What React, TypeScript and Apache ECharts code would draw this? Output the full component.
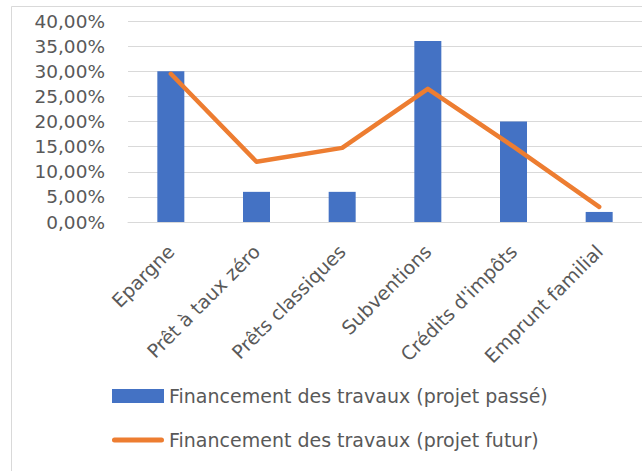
import React, { useEffect, useRef } from "react";
import * as echarts from "echarts";

const categories = [
  "Epargne",
  "Prêt à taux zéro",
  "Prêts classiques",
  "Subventions",
  "Crédits d'impôts",
  "Emprunt familial",
];
const pastProject = [30, 6, 6, 36, 20, 2];
const futureProject = [29.5, 12, 14.75, 26.5, 15, 3];
const seriesNames = [
  "Financement des travaux (projet passé)",
  "Financement des travaux (projet futur)",
];

const FONT = "'DejaVu Sans', sans-serif";
const GREY = "#595959";

export default function App() {
  const ref = useRef<HTMLDivElement>(null);
  useEffect(() => {
    if (!ref.current) return;
    const chart = echarts.init(ref.current, undefined, { renderer: "svg" });
    chart.setOption({
      animation: false,
      backgroundColor: "#ffffff",
      graphic: [
        {
          type: "rect",
          shape: { x: 11.5, y: 6.5, width: 700, height: 500 },
          style: { fill: "none", stroke: "#D9D9D9", lineWidth: 1 },
          silent: true,
          z: 0,
        },
      ],
      grid: { left: 128, top: 21, height: 201, width: 517, containLabel: false },
      xAxis: {
        type: "category",
        data: categories,
        axisLine: { show: true, lineStyle: { color: "#D9D9D9", width: 1 } },
        axisTick: { show: false },
        axisLabel: {
          rotate: 45,
          margin: 26,
          color: GREY,
          fontFamily: FONT,
          fontSize: 19,
          interval: 0,
        },
      },
      yAxis: {
        type: "value",
        min: 0,
        max: 40,
        interval: 5,
        axisLine: { show: false },
        axisTick: { show: false },
        splitLine: { lineStyle: { color: "#D9D9D9", width: 1 } },
        axisLabel: {
          margin: 23,
          color: GREY,
          fontFamily: FONT,
          fontSize: 18.5,
          formatter: (v: number) => v.toFixed(2).replace(".", ",") + "%",
        },
      },
      legend: {
        orient: "vertical",
        left: 112,
        top: 385,
        padding: 0,
        itemWidth: 52,
        itemHeight: 14,
        itemGap: 22,
        textStyle: { color: GREY, fontFamily: FONT, fontSize: 19, lineHeight: 22 },
        data: [
          { name: seriesNames[0], icon: "rect" },
          {
            name: seriesNames[1],
            icon: "path://M2.5,0 L49.5,0 A2.5,2.5 0 0 1 49.5,5 L2.5,5 A2.5,2.5 0 0 1 2.5,0 Z",
            itemStyle: { color: "#ED7D31" },
          },
        ],
      },
      series: [
        {
          name: seriesNames[0],
          type: "bar",
          data: pastProject,
          barWidth: 27,
          itemStyle: { color: "#4472C4" },
        },
        {
          name: seriesNames[1],
          type: "line",
          data: futureProject,
          symbol: "none",
          itemStyle: { color: "#ED7D31" },
          lineStyle: { color: "#ED7D31", width: 4.5, cap: "round", join: "round" },
        },
      ],
    });
    return () => chart.dispose();
  }, []);
  return (
    <div
      ref={ref}
      style={{ position: "fixed", left: 0, top: 0, width: 642, height: 471, background: "#fff" }}
    />
  );
}
